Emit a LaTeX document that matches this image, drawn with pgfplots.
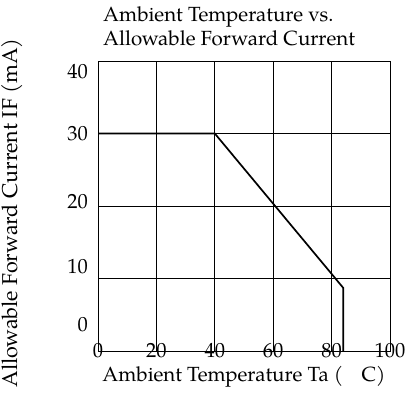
\documentclass[border=0pt]{standalone}
\usepackage{fontspec}
\setmainfont{TeX Gyre Pagella}
\usepackage{pgfplots}
\pgfplotsset{compat=1.18}
\begin{document}
\begin{tikzpicture}[font=\fontsize{20.5}{23.5}\selectfont]
\path[use as bounding box] (0,0) rectangle (414pt,392pt);
\begin{axis}[
  at={(98pt,41pt)}, anchor=south west,
  scale only axis, width=292pt, height=290pt,
  xmin=0, xmax=100, ymin=0, ymax=40,
  xtick={0,20,...,100}, ytick={0,10,...,40},
  yticklabels={},
  grid=major, grid style={black, line width=0.7pt},
  major tick length=0pt,
  axis line style={line width=1pt},
  /pgf/number format/assume math mode=true,
  xticklabel style={anchor=center, inner sep=0pt},
  extra y ticks={3.6,11.6,20.6,30,38.6},
  extra y tick labels={0,10,20,30,40},
  extra y tick style={grid=none, yticklabel style={anchor=east, inner sep=0pt, xshift=-10pt}},
  xlabel={Ambient Temperature Ta (\hspace{0.9em}C)},
  xlabel style={at={(axis description cs:0.5,0)}, anchor=base, yshift=-30pt, inner sep=0pt},
  ylabel={\fontsize{21.5}{24}\selectfont Allowable Forward Current IF (mA)},
  ylabel style={at={(axis description cs:-0.295,0.476)}, anchor=center, inner sep=0pt},
  title={Ambient Temperature vs.\\Allowable Forward Current},
  title style={at={(axis description cs:0,1)}, anchor=south west, align=left, inner sep=0pt, xshift=5pt, yshift=9pt},
]
\addplot[black, line width=1.7pt] coordinates {(0,30) (40,30) (84,8.7) (84,0)};
\end{axis}
\end{tikzpicture}
\end{document}
